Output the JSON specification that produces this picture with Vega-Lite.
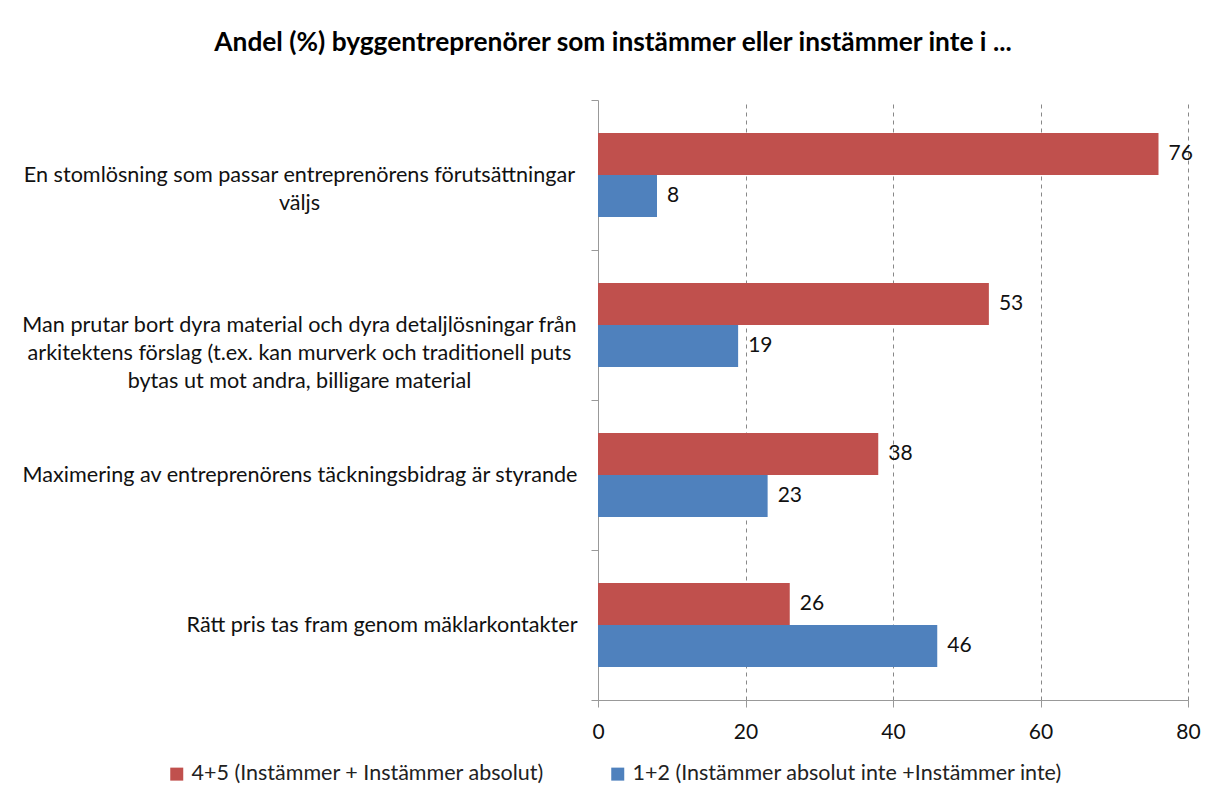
{
  "$schema": "https://vega.github.io/schema/vega-lite/v6.json",
  "width": 590,
  "height": 600,
  "autosize": "none",
  "padding": {"left": 598, "top": 100, "right": 18, "bottom": 94},
  "background": "white",
  "config": {"view": {"stroke": null}},
  "title": {
    "text": "Andel (%) byggentreprenörer som instämmer eller instämmer inte i ...",
    "font": "Lato", "fontSize": 26.3, "fontWeight": "bold", "color": "#000",
    "anchor": "middle", "dx": -280, "baseline": "alphabetic", "offset": 12
  },
  "data": {"values": [
    {"kategori": "En stomlösning som passar entreprenörens förutsättningar|väljs", "serie": "4+5 (Instämmer + Instämmer absolut)", "andel": 76},
    {"kategori": "En stomlösning som passar entreprenörens förutsättningar|väljs", "serie": "1+2 (Instämmer absolut inte +Instämmer inte)", "andel": 8},
    {"kategori": "Man prutar bort dyra material och dyra detaljlösningar från|arkitektens förslag (t.ex. kan murverk och traditionell puts|bytas ut mot andra, billigare material", "serie": "4+5 (Instämmer + Instämmer absolut)", "andel": 53},
    {"kategori": "Man prutar bort dyra material och dyra detaljlösningar från|arkitektens förslag (t.ex. kan murverk och traditionell puts|bytas ut mot andra, billigare material", "serie": "1+2 (Instämmer absolut inte +Instämmer inte)", "andel": 19},
    {"kategori": "Maximering av entreprenörens täckningsbidrag är styrande", "serie": "4+5 (Instämmer + Instämmer absolut)", "andel": 38},
    {"kategori": "Maximering av entreprenörens täckningsbidrag är styrande", "serie": "1+2 (Instämmer absolut inte +Instämmer inte)", "andel": 23},
    {"kategori": "Rätt pris tas fram genom mäklarkontakter", "serie": "4+5 (Instämmer + Instämmer absolut)", "andel": 26},
    {"kategori": "Rätt pris tas fram genom mäklarkontakter", "serie": "1+2 (Instämmer absolut inte +Instämmer inte)", "andel": 46}
  ]},
  "encoding": {
    "y": {
      "field": "kategori", "type": "nominal", "sort": null,
      "scale": {"paddingInner": 0, "paddingOuter": 0},
      "axis": {
        "title": null,
        "labelExpr": "isString(datum.value) ? split(datum.value, '|') : ''",
        "labelFont": "Lato", "labelFontSize": 21.6, "labelColor": "#111",
        "labelLineHeight": 28, "labelLimit": 0, "labelBaseline": "middle",
        "labelAlign": {"condition": {"test": "isString(datum.value) && indexof(datum.value, '|') < 0", "value": "right"}, "value": "center"},
        "labelPadding": {"condition": {"test": "isString(datum.value) && indexof(datum.value, '|') < 0", "value": 14}, "value": 292},
        "tickBand": "extent", "tickSize": 7, "tickColor": "#999", "domainColor": "#999",
        "grid": false
      }
    },
    "yOffset": {
      "field": "serie", "type": "nominal",
      "sort": ["4+5 (Instämmer + Instämmer absolut)", "1+2 (Instämmer absolut inte +Instämmer inte)"],
      "scale": {"paddingInner": 0, "paddingOuter": 0.786}
    },
    "x": {
      "field": "andel", "type": "quantitative",
      "scale": {"domain": [0, 80], "nice": false},
      "axis": {
        "title": null, "values": [0, 20, 40, 60, 80],
        "grid": true, "gridDash": [4, 4], "gridColor": "#888",
        "tickSize": 7, "tickColor": "#999", "domainColor": "#999", "labelFlush": false,
        "labelFont": "Lato", "labelFontSize": 21, "labelColor": "#111", "labelPadding": 14
      }
    }
  },
  "layer": [
    {
      "mark": {"type": "bar"},
      "encoding": {
        "color": {
          "field": "serie", "type": "nominal",
          "scale": {
            "domain": ["4+5 (Instämmer + Instämmer absolut)", "1+2 (Instämmer absolut inte +Instämmer inte)"],
            "range": ["#C0504D", "#4F81BD"]
          },
          "legend": {
            "title": null, "orient": "none", "legendX": -432, "legendY": 663,
            "direction": "horizontal", "symbolType": "square", "symbolSize": 169,
            "symbolStrokeWidth": 0, "padding": 0,
            "labelFont": "Lato", "labelFontSize": 21.5, "labelColor": "#222",
            "labelOffset": 4, "columnPadding": 62, "labelLimit": 0
          }
        }
      }
    },
    {
      "mark": {"type": "text", "align": "left", "baseline": "middle", "dx": 10, "font": "Lato", "fontSize": 21, "color": "#111"},
      "encoding": {"text": {"field": "andel", "type": "quantitative"}}
    }
  ]
}
